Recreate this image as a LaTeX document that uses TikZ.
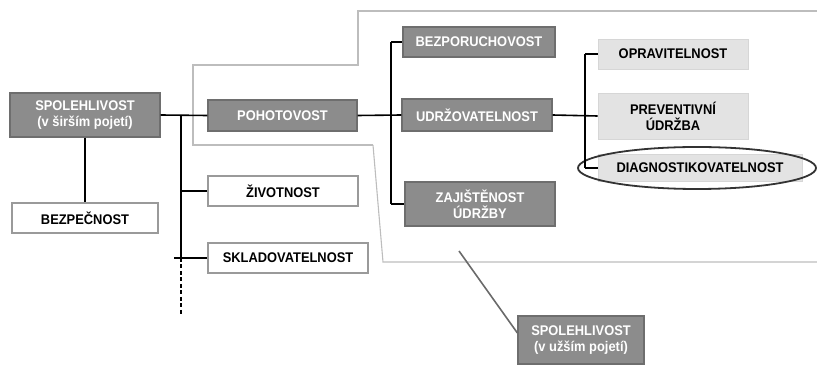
\documentclass[tikz,border=0pt]{standalone}
\usepackage{fontspec}
\setmainfont[FakeStretch=0.92]{Liberation Sans}
\definecolor{darkbox}{HTML}{8C8C8C}
\definecolor{darkedge}{HTML}{6E6E6E}
\definecolor{lightbox}{HTML}{E3E3E3}
\definecolor{lightedge}{HTML}{D6D6D6}
\definecolor{whiteedge}{HTML}{9A9A9A}
\definecolor{outline}{HTML}{BDBDBD}
\definecolor{pointer}{HTML}{6A6A6A}
\begin{document}
\begin{tikzpicture}[x=1pt,y=-1pt,
  every node/.style={font=\fontsize{14}{16}\selectfont\bfseries, inner sep=0pt, align=center},
  darkn/.style={rectangle, fill=darkbox, draw=darkedge, line width=1.2pt, text=white},
  lightn/.style={rectangle, fill=lightbox, draw=lightedge, line width=0.8pt, text=black},
  whiten/.style={rectangle, fill=white, draw=whiteedge, line width=1.4pt, text=black},
  conn/.style={draw=black, line width=1.6pt},
  frame/.style={draw=outline, line width=1.1pt}]
\useasboundingbox (0,0) rectangle (817,371);
% grey outline of the narrower sense region
\draw[frame] (373,145) -- (193,145) -- (193,65) -- (358,65) -- (358,11) -- (817,11);
\draw[frame] (373,145) -- (383,262) -- (817,262);
% nodes
\node[darkn, minimum width=150pt, minimum height=44pt] (sir) at (85,115) {SPOLEHLIVOST\\(v širším pojetí)};
\node[whiten, minimum width=146pt, minimum height=30pt] (bez) at (85,218) {BEZPEČNOST};
\node[darkn, minimum width=149pt, minimum height=31pt] (poh) at (282.5,115.5) {POHOTOVOST};
\node[whiten, minimum width=150pt, minimum height=30pt] (ziv) at (283,191) {ŽIVOTNOST};
\node[whiten, minimum width=160pt, minimum height=30pt] (skl) at (288,258) {SKLADOVATELNOST};
\node[darkn, minimum width=152pt, minimum height=30pt] (bzp) at (479,42) {BEZPORUCHOVOST};
\node[darkn, minimum width=150pt, minimum height=32pt] (udr) at (477,115) {UDRŽOVATELNOST};
\node[darkn, minimum width=150pt, minimum height=44pt] (zaj) at (480,204) {ZAJIŠTĚNOST\\ÚDRŽBY};
\node[lightn, minimum width=150pt, minimum height=30pt] (opr) at (673,54) {OPRAVITELNOST};
\node[lightn, minimum width=150pt, minimum height=46pt] (pre) at (673,116) {PREVENTIVNÍ\\ÚDRŽBA};
\node[lightn, minimum width=204pt, minimum height=27pt] (dia) at (700,168) {DIAGNOSTIKOVATELNOST};
\node[darkn, minimum width=126pt, minimum height=48pt] (uzs) at (581,340) {SPOLEHLIVOST\\(v užším pojetí)};
\draw[draw=black!80, line width=1.8pt] (697,168) ellipse [x radius=119, y radius=21];
% coordinates
\coordinate (t0) at (181,115);
\coordinate (t1) at (181,191);
\coordinate (t2) at (181,258);
\coordinate (t2l) at (174,258);
\coordinate (t3) at (181,316);
\coordinate (m0) at (391,42);
\coordinate (m2) at (391,204);
\coordinate (r0) at (585,54);
\coordinate (r2) at (585,168);
\coordinate (p) at (459,251);
% connectors
\draw[conn] (sir) -- (bez);
\draw[conn] (sir.east) -- (poh.west);
\draw[conn] (t0) -- (t2);
\draw[conn, dash pattern=on 4pt off 2.5pt] (t2) -- (t3);
\draw[conn] (t1) -- (ziv.west);
\draw[conn] (t2l) -- (skl.west);
\draw[conn] (poh.east) -- (udr.west);
\draw[conn] (m0) -- (m2);
\draw[conn] (m0) -- (bzp.west);
\draw[conn] (m2) -- (zaj.west);
\draw[conn] (udr.east) -- (pre.west);
\draw[conn] (r0) -- (r2);
\draw[conn] (r0) -- (opr.west);
\draw[conn] (r2) -- (dia.west);
\draw[draw=pointer, line width=1.6pt] (p) -- ([yshift=7pt]uzs.west);
\end{tikzpicture}
\end{document}
